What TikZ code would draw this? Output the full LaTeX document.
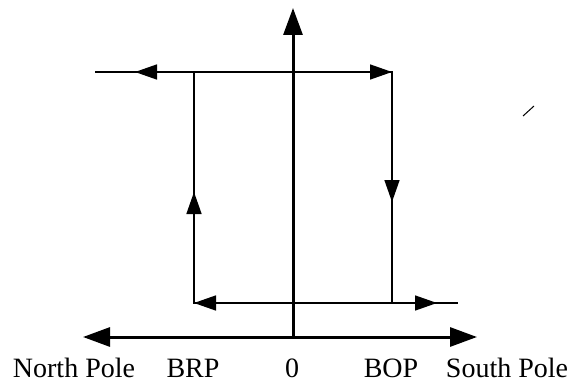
\documentclass[tikz,border=0pt]{standalone}
\usepackage{fontspec}
\setmainfont{Liberation Serif}
\usetikzlibrary{arrows.meta}

\tikzset{
    loopline/.style={line width=1.5pt},
    loopto/.style={loopline, -{Triangle[length=22pt,width=15pt]}},
    axisline/.style={line width=3pt},
    axislabel/.style={anchor=base, font=\fontsize{28}{32}\selectfont},
}

\begin{document}
\begin{tikzpicture}[x=1pt,y=-1pt]
        \useasboundingbox (0,0) rectangle (580,382);
        % corners of the loop
        \coordinate (TE) at (95,72);
        \coordinate (TL) at (194,72);
        \coordinate (TR) at (392,72);
        \coordinate (BR) at (392,303);
        \coordinate (BL) at (194,303);
        \coordinate (BE) at (458,303);
        % where the arrow tips sit
        \coordinate (ta) at (135,72);
        \coordinate (ra) at (392,202);
        \coordinate (la) at (194,192);
        \coordinate (ba) at (437,303);
        % axes
        \coordinate (O) at (293,337);
        \coordinate (AL) at (83,337);
        \coordinate (AR) at (477,337);
        \coordinate (AT) at (293,8);
        \draw[axisline, {Triangle[length=27pt,width=19pt]}-{Triangle[length=27pt,width=19pt]}] (AL) -- (AR);
        \draw[axisline, -{Triangle[length=27pt,width=19pt]}] (O) -- (AT);
        %
        \draw[loopline] (TE) -- (TR) -- (BR) -- (BL) -- (TL);
        \draw[loopline] (BR) -- (BE);
        \draw[loopto] (TL) -- (ta);
        \draw[loopto] (TL) -- (TR);
        \draw[loopto] (TR) -- (ra);
        \draw[loopto] (BR) -- (BL);
        \draw[loopto] (BL) -- (ba);
        \draw[loopto] (BL) -- (la);
        %
        \coordinate (s1) at (523,116);
        \coordinate (s2) at (534,106);
        \draw[line width=1pt] (s1) -- (s2);
        % labels
        \node[axislabel] (north) at (74,377) {North Pole};
        \node[axislabel] (brp) at (193,377) {BRP};
        \node[axislabel] (zero) at (292,377) {0};
        \node[axislabel] (bop) at (391,377) {BOP};
        \node[axislabel] (south) at (507,377) {South Pole};
\end{tikzpicture}
\end{document}
